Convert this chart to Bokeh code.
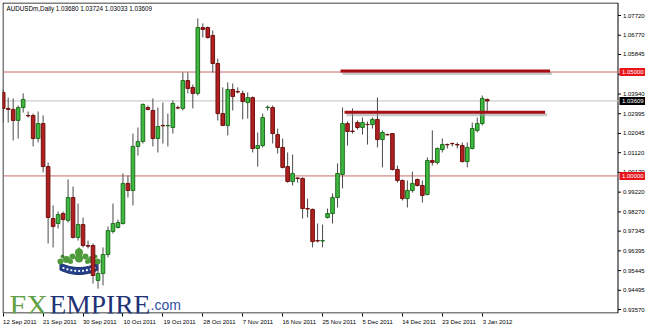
from bokeh.plotting import figure
from bokeh.models import FixedTicker, LinearAxis, Range1d, Label, ColumnDataSource
from bokeh.core.properties import value
from bokeh.embed import file_html
from bokeh.resources import INLINE

# ---------------- data ----------------
symbol = "AUDUSDm,Daily"
date_labels = ["12 Sep 2011", "21 Sep 2011", "30 Sep 2011", "10 Oct 2011", "19 Oct 2011",
               "28 Oct 2011", "7 Nov 2011", "16 Nov 2011", "25 Nov 2011", "5 Dec 2011",
               "14 Dec 2011", "23 Dec 2011", "3 Jan 2012"]
date_idx = [0, 8, 16, 24, 32, 40, 48, 56, 64, 72, 80, 88, 96]

opens = [1.0402, 1.0325, 1.0320, 1.0267, 1.0329, 1.0291, 1.0291, 1.0180, 1.0252, 1.0045,
         0.9795, 0.9771, 0.9819, 0.9786, 0.9896, 0.9704, 0.9766, 0.9665, 0.9665, 0.9497,
         0.9531, 0.9622, 0.9733, 0.9752, 0.9771, 0.9964, 0.9930, 1.0142, 1.0166, 1.0329,
         1.0315, 1.0180, 1.0243, 1.0241, 1.0233, 1.0329, 1.0325, 1.0459, 1.0426, 1.0397,
         1.0714, 1.0714, 1.0676, 1.0541, 1.0300, 1.0243, 1.0416, 1.0406, 1.0397, 1.0353,
         1.0377, 1.0132, 1.0146, 1.0329, 1.0329, 1.0199, 1.0137, 1.0045, 0.9973, 0.9990,
         0.9988, 0.9843, 0.9839, 0.9689, 0.9687, 0.9800, 0.9819, 0.9896, 1.0007, 1.0252,
         1.0216, 1.0257, 1.0233, 1.0248, 1.0247, 1.0272, 1.0175, 1.0199, 1.0204, 1.0031,
         0.9978, 0.9891, 0.9930, 0.9983, 0.9954, 0.9911, 1.0074, 1.0065, 1.0127, 1.0151,
         1.0156, 1.0151, 1.0146, 1.0069, 1.0132, 1.0219, 1.0252, 1.03680]
highs = [1.0416, 1.0377, 1.0373, 1.0339, 1.0397, 1.0310, 1.0300, 1.0310, 1.0291, 1.0065,
         0.9858, 0.9829, 0.9829, 0.9983, 0.9949, 0.9867, 0.9800, 0.9689, 0.9675, 0.9559,
         0.9656, 0.9757, 0.9867, 0.9790, 1.0012, 1.0002, 1.0204, 1.0233, 1.0349, 1.0339,
         1.0373, 1.0329, 1.0353, 1.0300, 1.0363, 1.0339, 1.0498, 1.0498, 1.0440, 1.0758,
         1.0734, 1.0719, 1.0700, 1.0565, 1.0426, 1.0450, 1.0445, 1.0426, 1.0411, 1.0402,
         1.0382, 1.0209, 1.0300, 1.0339, 1.0339, 1.0228, 1.0180, 1.0113, 1.0103, 0.9993,
         0.9993, 0.9891, 0.9843, 0.9771, 0.9766, 0.9843, 0.9916, 1.0060, 1.0329, 1.0262,
         1.0325, 1.0267, 1.0281, 1.0262, 1.0281, 1.0377, 1.0219, 1.0204, 1.0204, 1.0050,
         0.9983, 0.9978, 1.0021, 0.9988, 0.9978, 1.0089, 1.0219, 1.0137, 1.0180, 1.0156,
         1.0161, 1.0161, 1.0161, 1.0161, 1.0257, 1.0281, 1.0387, 1.03724]
lows = [1.0257, 1.0257, 1.0171, 1.0180, 1.0305, 1.0281, 1.0142, 1.0161, 1.0017, 0.9675,
        0.9656, 0.9747, 0.9608, 0.9776, 0.9699, 0.9689, 0.9656, 0.9651, 0.9482, 0.9458,
        0.9473, 0.9608, 0.9723, 0.9747, 0.9766, 0.9896, 0.9858, 1.0098, 1.0156, 1.0315,
        1.0142, 1.0113, 1.0156, 1.0142, 1.0204, 1.0320, 1.0315, 1.0397, 1.0325, 1.0387,
        1.0666, 1.0661, 1.0498, 1.0267, 1.0240, 1.0195, 1.0315, 1.0397, 1.0272, 1.0276,
        1.0113, 1.0045, 1.0137, 1.0315, 1.0156, 1.0108, 1.0036, 0.9968, 0.9954, 0.9968,
        0.9795, 0.9800, 0.9656, 0.9680, 0.9656, 0.9795, 0.9771, 0.9848, 0.9940, 1.0146,
        1.0204, 1.0223, 1.0199, 1.0151, 1.0228, 1.0137, 1.0041, 1.0195, 1.0026, 0.9968,
        0.9882, 0.9848, 0.9920, 0.9949, 0.9872, 0.9906, 1.0050, 1.0055, 1.0113, 1.0132,
        1.0142, 1.0132, 1.0065, 1.0041, 1.0127, 1.0209, 1.0243, 1.03033]
closes = [1.0325, 1.0320, 1.0267, 1.0329, 1.0368, 1.0289, 1.0180, 1.0252, 1.0045, 0.9800,
          0.9757, 0.9814, 0.9790, 0.9896, 0.9704, 0.9766, 0.9665, 0.9662, 0.9521, 0.9531,
          0.9622, 0.9737, 0.9771, 0.9776, 0.9964, 0.9930, 1.0142, 1.0166, 1.0344, 1.0320,
          1.0180, 1.0238, 1.0241, 1.0243, 1.0349, 1.0327, 1.0459, 1.0421, 1.0397, 1.0714,
          1.0705, 1.0666, 1.0541, 1.0300, 1.0243, 1.0416, 1.0382, 1.0404, 1.0358, 1.0377,
          1.0132, 1.0146, 1.0281, 1.0331, 1.0204, 1.0137, 1.0041, 0.9973, 1.0012, 0.9988,
          0.9843, 0.9841, 0.9684, 0.9687, 0.9689, 0.9819, 0.9896, 1.0012, 1.0252, 1.0214,
          1.0214, 1.0233, 1.0257, 1.0247, 1.0272, 1.0175, 1.0209, 1.0198, 1.0031, 0.9978,
          0.9891, 0.9930, 0.9964, 0.9954, 0.9906, 1.0074, 1.0065, 1.0132, 1.0151, 1.0150,
          1.0155, 1.0149, 1.0069, 1.0137, 1.0228, 1.0252, 1.0373, 1.03609]

price_ticks = [1.07720, 1.06770, 1.05845, 1.04895, 1.03940, 1.02995, 1.02045, 1.01120,
               1.00170, 0.99220, 0.98270, 0.97345, 0.96395, 0.95445, 0.94495, 0.93570]
levels = [1.05000, 1.00000]
current_price = closes[-1]
trend_x0 = [67.6, 68.4]
trend_x1 = [109.6, 108.6]
trend_y = [1.0505, 1.0307]

# ---------------- pixel helpers for decoration / layout ----------------
PX0, PXS = 2.7, 4.99
YPX = 0.0004812
def dx(px):
    return (px - PX0) / PXS
def dy(py):
    return 1.08442 - YPX * py

FONT = "Liberation Sans"
SERIF = "Liberation Serif"

p = figure(frame_width=643, frame_height=311,
           x_range=Range1d(dx(2), dx(645)), y_range=Range1d(dy(313), dy(2)),
           min_border_left=2, min_border_top=2, min_border_right=0, min_border_bottom=13,
           x_axis_location=None, y_axis_location=None,
           toolbar_location=None, output_backend="svg")
p.xgrid.visible = False
p.ygrid.visible = False
p.background_fill_color = "white"
p.border_fill_color = "white"
p.outline_line_color = None

# ---- chart frame (left, top, right axis line, bottom axis line) ----
XL, XR = dx(2.5), dx(617.5)
YT, YB = dy(2.5), dy(312.5)
p.segment(x0=[XL, XL, XR, XL], y0=[YT, YT, YT, YB], x1=[XR, XL, XR, XR], y1=[YT, YB, YB, YB],
          line_color="black", line_width=1)

# ---- logo (beneath candles) ----
cx = 78.5
top_pts = [(x, 262.5 + 4.5 * (1 - ((x - cx) / 19.0) ** 2)) for x in [59.5 + k * 1.9 for k in range(21)]]
bot_pts = [(x, y + 7) for (x, y) in reversed(top_pts)]
band = top_pts + bot_pts
p.patch([dx(a) for a, b in band], [dy(b) for a, b in band], fill_color="#24408c", line_color="#1b2f6a")
dots_x = [63 + k * 3.9 for k in range(9)]
dots_y = [262.5 + 4.5 * (1 - ((x - cx) / 19.0) ** 2) + 3.5 for x in dots_x]
p.scatter([dx(a) for a in dots_x], [dy(b) for b in dots_y], size=2.2, color="white", line_color=None)
leaves = [(60, 261, 6), (66, 259, 7), (72, 256, 6), (78.5, 252, 8), (85, 256, 6), (91, 259, 7), (97, 261, 6),
          (78.5, 258, 8), (62, 256, 4), (95, 256, 4), (70, 261, 5), (87, 261, 5)]
p.scatter([dx(a) for a, b, s in leaves], [dy(b) for a, b, s in leaves], size=[s for a, b, s in leaves],
          color="#4f9a3a", line_color=None)
p.scatter([dx(78.5)], [dy(248.5)], size=4, marker="triangle", color="#4f9a3a", line_color=None)

p.add_layout(Label(x=dx(9), y=dy(304), text="FX", text_font=SERIF,
                   text_font_size="30px", text_color="#62a046", text_baseline="alphabetic"))
p.add_layout(Label(x=dx(49), y=dy(304), text="EMPIRE", text_font=SERIF,
                   text_font_size="27.5px", text_color="#1f3276", text_baseline="alphabetic"))
p.add_layout(Label(x=dx(150), y=dy(304), text=".com", text_font=FONT, text_font_size="14px",
                   text_color="#2f4f9f", text_baseline="alphabetic"))

# ---- horizontal levels ----
p.segment(x0=[XL] * len(levels), y0=levels, x1=[dx(619)] * len(levels), y1=levels,
          line_color="#c86a6a", line_width=1)
p.segment(x0=[XL], y0=[current_price], x1=[dx(619)], y1=[current_price],
          line_color="#c0c0c0", line_width=1)

# ---- candles ----
idx = list(range(len(opens)))
up = [c >= o for o, c in zip(opens, closes)]
src = ColumnDataSource(dict(
    x=idx, o=opens, h=highs, l=lows, c=closes,
    top=[max(o, c) for o, c in zip(opens, closes)],
    bottom=[min(o, c) for o, c in zip(opens, closes)],
    fill=["#3fb83f" if u else "#b02020" for u in up],
    edge=["#1d6e1d" if u else "#6e1010" for u in up],
))
p.segment(x0="x", y0="h", x1="x", y1="l", source=src, line_color="#4a4a4a", line_width=1)
p.vbar(x="x", width=0.72, top="top", bottom="bottom", source=src,
       fill_color="fill", line_color="edge", line_width=1)

# ---- drawn trend lines with shadow ----
sh_dx = 0.4
sh_dy = YPX * 2.5
p.segment(x0=[a + sh_dx for a in trend_x0], y0=[b - sh_dy for b in trend_y],
          x1=[a + sh_dx for a in trend_x1], y1=[b - sh_dy for b in trend_y],
          line_color="#9a9a9a", line_alpha=0.55, line_width=3)
p.segment(x0=trend_x0, y0=trend_y, x1=trend_x1, y1=trend_y, line_color="#a50f15", line_width=3)

# ---- right price scale (drawn inside the frame area) ----
p.segment(x0=[XR] * len(price_ticks), y0=price_ticks, x1=[dx(620.5)] * len(price_ticks), y1=price_ticks,
          line_color="black", line_width=1)
p.text(x=[dx(622.5)] * len(price_ticks), y=price_ticks, text=[f"{t:.5f}" for t in price_ticks],
       text_font=value(FONT), text_font_size="6px", text_color="black", text_baseline="middle")

box_h = YPX * 8
box_y = levels + [current_price]
box_c = ["#e8161b"] * len(levels) + ["black"]
p.quad(left=[dx(619)] * len(box_y), right=[dx(645)] * len(box_y),
       top=[v + box_h / 2 for v in box_y], bottom=[v - box_h / 2 for v in box_y],
       fill_color=box_c, line_color=None)
p.text(x=[dx(621.5)] * len(box_y), y=box_y, text=[f"{v:.5f}" for v in box_y],
       text_font=value(FONT), text_font_size="6px", text_color="white", text_baseline="middle")

# ---- date axis ----
centers = [i + (1 + len(s) * 2.85 / 2) / PXS for i, s in zip(date_idx, date_labels)]
xax = LinearAxis(ticker=FixedTicker(ticks=centers, minor_ticks=date_idx), axis_line_color=None,
                 major_tick_out=0, major_tick_in=0, minor_tick_out=3, minor_tick_in=0,
                 minor_tick_line_color="black",
                 major_label_standoff=2, major_label_text_font=FONT,
                 major_label_text_font_size="6px", major_label_text_color="black",
                 major_label_overrides={c: s for c, s in zip(centers, date_labels)})
p.add_layout(xax, "below")

# ---- title ----
p.add_layout(Label(x=dx(6), y=dy(7.5),
                   text=f"{symbol}  {opens[-1]:.5f} {highs[-1]:.5f} {lows[-1]:.5f} {closes[-1]:.5f}",
                   text_font=FONT, text_font_size="6.3px", text_color="black", text_baseline="middle"))

open("out.html", "w").write(file_html(p, INLINE))
